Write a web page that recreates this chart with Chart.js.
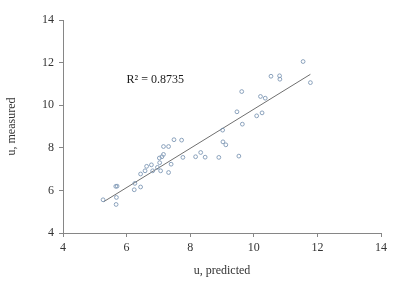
<!DOCTYPE html>
<html>
<head>
<meta charset="utf-8">
<script src="https://cdn.jsdelivr.net/npm/chart.js@4/dist/chart.umd.min.js"></script>
<style>
  html, body { margin: 0; padding: 0; background: #fff; }
  #wrap { width: 400px; height: 283px; }
</style>
</head>
<body>
<div id="wrap"><canvas id="uChart"></canvas></div>
<script>
// measured vs predicted
const predicted = [5.26, 5.67, 5.68, 5.66, 5.70, 6.24, 6.26, 6.44, 6.44, 6.58,
  6.63, 6.78, 6.82, 6.97, 7.04, 7.03, 7.07, 7.11, 7.16, 7.16,
  7.32, 7.32, 7.40, 7.49, 7.73, 7.77, 8.17, 8.33, 8.47, 8.90,
  9.02, 9.03, 9.12, 9.47, 9.53, 9.62, 9.64, 10.09, 10.21, 10.26,
  10.36, 10.54, 10.81, 10.82, 11.55, 11.78];
const measured = [5.56, 5.34, 5.67, 6.19, 6.20, 6.03, 6.33, 6.16, 6.77, 6.92,
  7.13, 7.20, 6.92, 7.08, 7.30, 7.52, 6.92, 7.58, 7.69, 8.06,
  8.06, 6.84, 7.23, 8.38, 8.36, 7.55, 7.58, 7.78, 7.56, 7.55,
  8.83, 8.28, 8.14, 9.69, 7.61, 10.64, 9.11, 9.50, 10.41, 9.64,
  10.33, 11.36, 11.38, 11.22, 12.05, 11.06];

// linear trend line end points
const trendX = [5.28, 11.78];
const trendY = [5.47, 11.45];

const axisTicks = [4, 6, 8, 10, 12, 14];
const r2Label = "R\u00B2 = 0.8735";

const textColor = "#333333";
const axisColor = "#868686";
const serif = "'Liberation Serif', 'DejaVu Serif', serif";

const points = predicted.map((x, i) => ({ x: x, y: measured[i] }));
const trend = trendX.map((x, i) => ({ x: x, y: trendY[i] }));

// draws the R² note at a data position
const r2Note = {
  id: "r2Note",
  afterDraw(chart) {
    const c = chart.ctx;
    const xs = chart.scales.x, ys = chart.scales.y;
    c.save();
    c.font = "12px " + serif;
    c.fillStyle = "#1a1a1a";
    c.textBaseline = "middle";
    c.fillText(r2Label, xs.getPixelForValue(6.0), ys.getPixelForValue(11.19));
    c.restore();
  }
};

new Chart(document.getElementById("uChart"), {
  type: "scatter",
  data: {
    datasets: [
      {
        data: points,
        pointRadius: 1.9,
        pointBorderWidth: 0.9,
        pointBorderColor: "#7f99b6",
        pointBackgroundColor: "rgba(0,0,0,0)"
      },
      {
        data: trend,
        showLine: true,
        pointRadius: 0,
        borderColor: "#6f6f6f",
        borderWidth: 1
      }
    ]
  },
  options: {
    responsive: true,
    maintainAspectRatio: false,
    animation: false,
    layout: { padding: { top: 20, right: 19, left: 0, bottom: 0 } },
    plugins: { legend: { display: false }, tooltip: { enabled: false } },
    scales: {
      x: {
        type: "linear",
        min: 4, max: 14,
        afterBuildTicks(axis) { axis.ticks = axisTicks.map(v => ({ value: v })); },
        afterFit(axis) { axis.height = 50; },
        grid: { drawOnChartArea: false, tickLength: 4, color: axisColor },
        border: { color: axisColor },
        ticks: { color: textColor, font: { family: serif, size: 12 }, padding: 4 },
        title: { display: true, text: "u, predicted", color: textColor,
                 font: { family: serif, size: 12 }, padding: { top: 0, bottom: 5 } }
      },
      y: {
        type: "linear",
        min: 4, max: 14,
        afterBuildTicks(axis) { axis.ticks = axisTicks.map(v => ({ value: v })); },
        afterFit(axis) { axis.width = 63; },
        grid: { drawOnChartArea: false, tickLength: 4, color: axisColor },
        border: { color: axisColor },
        ticks: { color: textColor, font: { family: serif, size: 12 }, padding: 5 },
        title: { display: true, text: "u, measured", color: textColor,
                 font: { family: serif, size: 12 }, padding: { top: 5, bottom: 0 } }
      }
    }
  },
  plugins: [r2Note]
});
</script>
</body>
</html>
